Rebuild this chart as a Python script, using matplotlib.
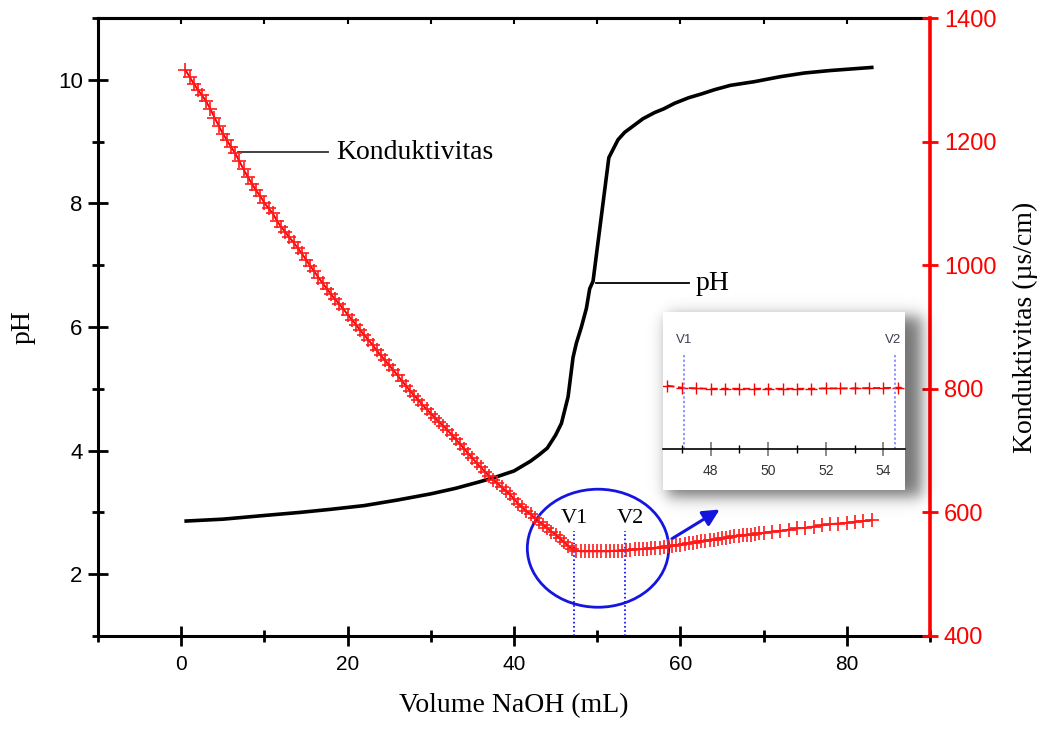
import matplotlib
matplotlib.use("Agg")
import numpy as np
import matplotlib.pyplot as plt
from matplotlib.patches import Ellipse, FancyArrowPatch, Rectangle
from matplotlib.ticker import MultipleLocator, FixedLocator

# ---------------- data ----------------
vol_ph = [0.6, 5, 10, 14.3, 18, 22, 26, 30, 33, 36, 38, 40, 42, 43, 44, 45, 45.7, 46.5,
          47.1, 47.5, 48.1, 48.7, 49.1, 49.5, 51.4, 52.5, 53.3, 54.1, 55.5, 56.9, 58,
          59.3, 61, 62.5, 64.1, 66, 68.9, 72, 74.9, 78, 81, 83]
ph = [2.86, 2.89, 2.95, 3.00, 3.05, 3.11, 3.20, 3.30, 3.39, 3.50, 3.58, 3.67, 3.83, 3.93,
      4.04, 4.25, 4.44, 4.87, 5.51, 5.74, 6.00, 6.30, 6.62, 6.74, 8.74, 9.03, 9.15, 9.23,
      9.37, 9.47, 9.53, 9.62, 9.71, 9.77, 9.84, 9.91, 9.97, 10.05, 10.11, 10.15, 10.18, 10.20]

vol_k = [0.5, 1.0, 1.5, 2.0, 2.5, 3.0, 3.5, 4.0, 4.5, 5.0,
         5.5, 6.0, 6.5, 7.0, 7.5, 8.0, 8.5, 9.0, 9.5, 10.0,
         10.5, 11.0, 11.5, 12.0, 12.5, 13.0, 13.5, 14.0, 14.5, 15.0,
         15.5, 16.0, 16.5, 17.0, 17.5, 18.0, 18.5, 19.0, 19.5, 20.0,
         20.5, 21.0, 21.5, 22.0, 22.5, 23.0, 23.5, 24.0, 24.5, 25.0,
         25.5, 26.0, 26.5, 27.0, 27.5, 28.0, 28.5, 29.0, 29.5, 30.0,
         30.5, 31.0, 31.5, 32.0, 32.5, 33.0, 33.5, 34.0, 34.5, 35.0,
         35.5, 36.0, 36.5, 37.0, 37.5, 38.0, 38.5, 39.0, 39.5, 40.0,
         40.5, 41.0, 41.5, 42.0, 42.5, 43.0, 43.5, 44.0, 44.5, 45.0,
         45.5, 46.0, 46.5, 47.0, 47.5, 48.0, 48.5, 49.0, 49.5, 50.0,
         50.5, 51.0, 51.5, 52.0, 52.5, 53.0, 53.5, 54.0, 54.5, 55.0,
         55.5, 56.0, 56.5, 57.0, 57.5, 58.0, 58.5, 59.0, 59.5, 60.0,
         60.5, 61.0, 61.5, 62.0, 62.5, 63.0, 63.5, 64.0, 64.5, 65.0,
         65.5, 66.0, 66.5, 67.0, 67.5, 68.0, 68.5, 69.0, 69.5, 70.0,
         71, 72, 73, 74, 75, 76, 77, 78, 79, 80, 81, 82, 83]
kond = [1316, 1305, 1294, 1284, 1275, 1265, 1253, 1239, 1226, 1213,
        1202, 1191, 1181, 1168, 1155, 1143, 1132, 1121, 1112, 1101,
        1092, 1084, 1072, 1062, 1054, 1045, 1037, 1028, 1019, 1009,
        999, 990, 980, 971, 962, 953, 945, 937, 929, 920,
        912, 904, 895, 887, 879, 871, 862, 854, 846, 838,
        830, 822, 813, 805, 797, 789, 782, 774, 767, 760,
        753, 746, 740, 733, 726, 718, 711, 703, 695, 688,
        680, 673, 666, 659, 653, 647, 641, 635, 629, 622,
        614, 608, 602, 597, 591, 585, 580, 574, 569, 564,
        558, 552, 546, 540, 538, 537, 537, 537, 537, 537,
        537, 537, 537, 538, 538, 538, 539, 539, 540, 540,
        541, 541, 542, 543, 543, 544, 545, 546, 547, 548,
        549, 550, 551, 552, 553, 554, 555, 556, 557, 558,
        559, 560, 561, 562, 563, 564, 564, 565, 566, 567,
        569, 570, 572, 574, 575, 577, 579, 581, 582, 583, 585, 586, 587]

v1, v2 = 47.2, 53.4
inset_v1, inset_v2 = 47.07, 54.4
x_major = [0, 20, 40, 60, 80]
ph_major = [2, 4, 6, 8, 10]
k_major = [400, 600, 800, 1000, 1200, 1400]
inset_major = [48, 50, 52, 54]

SERIF = "Liberation Serif"
SANS = "Liberation Sans"

W, H = 1048, 729
fig = plt.figure(figsize=(W / 100, H / 100), dpi=100)
fig.patch.set_facecolor("white")
ax = fig.add_axes([0.0935, 0.1276, 0.7939, 0.8477])
ax.set_xlim(-10, 90)
ax.set_ylim(1, 11)
ax.set_facecolor("none")

# pH curve
ax.plot(vol_ph, ph, color="black", lw=2.6, solid_joinstyle="round", zorder=3)

# spines / ticks (left axis)
for s in ["left", "bottom", "top"]:
    ax.spines[s].set_linewidth(2.2)
ax.spines["right"].set_visible(False)
ax.xaxis.set_major_locator(FixedLocator(x_major))
ax.xaxis.set_minor_locator(MultipleLocator(10))
ax.yaxis.set_major_locator(FixedLocator(ph_major))
ax.yaxis.set_minor_locator(MultipleLocator(1))
ax.tick_params(axis="both", which="major", direction="inout", length=15, width=2,
               labelsize=15, right=True)
ax.tick_params(axis="y", which="major", labelsize=16)
ax.tick_params(axis="both", which="minor", direction="inout", length=9, width=2)
ax.tick_params(axis="y", which="minor", right=False)
ax.tick_params(axis="x", which="major", pad=6)
for lab in ax.get_xticklabels() + ax.get_yticklabels():
    lab.set_fontfamily(SANS)

# top ticks pointing inward
top = ax.secondary_xaxis("top")
top.xaxis.set_major_locator(MultipleLocator(10))
top.tick_params(direction="in", length=4, width=1.5, labeltop=False)
top.spines["top"].set_linewidth(2.2)

ax.set_xlabel("Volume NaOH (mL)", fontfamily=SERIF, fontsize=20, labelpad=14)
ax.set_ylabel("pH", fontfamily=SERIF, fontsize=20, labelpad=16)

# right axis (conductivity)
ax2 = ax.twinx()
ax2.set_ylim(400, 1400)
ax2.set_facecolor("none")
ax2.plot(vol_k, kond, color="red", lw=1.4, marker="+", ms=10, mew=1.2,
         markeredgecolor="#ff1a1a", zorder=4)
for s in ["left", "top", "bottom"]:
    ax2.spines[s].set_visible(False)
ax2.spines["right"].set_color("red")
ax2.spines["right"].set_linewidth(2.6)
ax2.yaxis.set_major_locator(FixedLocator(k_major))
ax2.tick_params(axis="y", which="major", direction="inout", length=12, width=2,
                colors="red", labelsize=17, pad=4)
for lab in ax2.get_yticklabels():
    lab.set_fontfamily(SANS)
ax2.set_ylabel("Konduktivitas (\u00b5s/cm)", fontfamily=SERIF, fontsize=20,
               labelpad=12, color="black")

# V1 / V2 dotted lines and labels
for v, txt, dx in [(v1, "V1", 0.0), (v2, "V2", 0.6)]:
    ax.plot([v, v], [1, 2.7], color="blue", lw=1.2, ls=(0, (1, 1.5)), zorder=5)
    ax.text(v + dx, 2.9, txt, fontfamily=SERIF, fontsize=16, ha="center",
            va="center", zorder=6)

# ellipse and arrow
ax.add_patch(Ellipse((50.1, 2.42), 17.0, 1.91, fill=False, edgecolor="#1515e0",
                     lw=2, zorder=6))
ax.add_patch(FancyArrowPatch((58.7, 2.55), (65.0, 3.07), arrowstyle="-|>",
                             mutation_scale=25, color="#1515e0", lw=2.2, zorder=6))

# leader labels
ax.plot([6.87, 17.7], [8.83, 8.83], color="#333333", lw=1.3, zorder=5)
ax.text(18.6, 8.83, "Konduktivitas", fontfamily=SERIF, fontsize=20, va="center",
        ha="left")
ax.plot([49.9, 61.0], [6.71, 6.71], color="black", lw=1.3, zorder=5)
ax.text(61.8, 6.71, "pH", fontfamily=SERIF, fontsize=20, va="center", ha="left")

# inset box with soft blurred shadow (pixel-based image)
x0p, x1p, y0p, y1p = 663, 905, 312, 490          # box in pixels (top-left origin)
sx0, sx1, sy0, sy1 = 630, 960, 280, 525          # shadow canvas
xx = np.arange(sx0, sx1)[None, :]
yy = np.arange(sy0, sy1)[:, None]
s = 9.0
fx = 0.5 * (np.tanh((xx - (x0p + 4)) / s) - np.tanh((xx - (x1p + 16)) / s))
fy = 0.5 * (np.tanh((yy - (y0p + 4)) / s) - np.tanh((yy - (y1p + 6)) / s))
alpha = 0.55 * fx * fy
rgba = np.zeros((sy1 - sy0, sx1 - sx0, 4))
rgba[..., 3] = alpha
fig.figimage(rgba, xo=sx0, yo=H - sy1, origin="upper", zorder=5)

bx, by, bw, bh = x0p / W, 1 - y1p / H, (x1p - x0p) / W, (y1p - y0p) / H
fig.patches.append(Rectangle((bx, by), bw, bh, transform=fig.transFigure,
                             facecolor="white", edgecolor="none", zorder=6))

axi = fig.add_axes([bx, 1 - 449 / H, bw, 137 / H], zorder=7)
axi.set_facecolor("none")
axi.set_xlim(46.35, 54.75)
axi.set_ylim(361, 761)
sub_v = [v for v in vol_k if 46.3 <= v <= 55]
sub_k = [k for v, k in zip(vol_k, kond) if 46.3 <= v <= 55]
axi.plot(sub_v, sub_k, color="red", lw=1.3, ls=(0, (4, 2)), marker="+", ms=8,
         mew=1.0)
for v in [inset_v1, inset_v2]:
    axi.plot([v, v], [361, 640], color="#7777ff", lw=1.1, ls=(0, (1.5, 1.5)))
axi.text(inset_v1, 680, "V1", fontsize=9.5, fontfamily=SANS, color="#3a3f55",
         ha="center", va="center")
axi.text(inset_v2 - 0.05, 680, "V2", fontsize=9.5, fontfamily=SANS, color="#3a3f55",
         ha="center", va="center")
for sp in ["left", "right", "top"]:
    axi.spines[sp].set_visible(False)
axi.spines["bottom"].set_linewidth(1.2)
axi.set_yticks([])
axi.xaxis.set_major_locator(FixedLocator(inset_major))
axi.xaxis.set_minor_locator(FixedLocator([47, 49, 51, 53]))
axi.tick_params(axis="x", which="major", direction="inout", length=10, width=1.2,
                color="#777777", labelsize=10, labelcolor="#333333", pad=6)
axi.tick_params(axis="x", which="minor", direction="inout", length=6, width=1.0)
for lab in axi.get_xticklabels():
    lab.set_fontfamily(SANS)

fig.savefig("out.png", dpi=100)
